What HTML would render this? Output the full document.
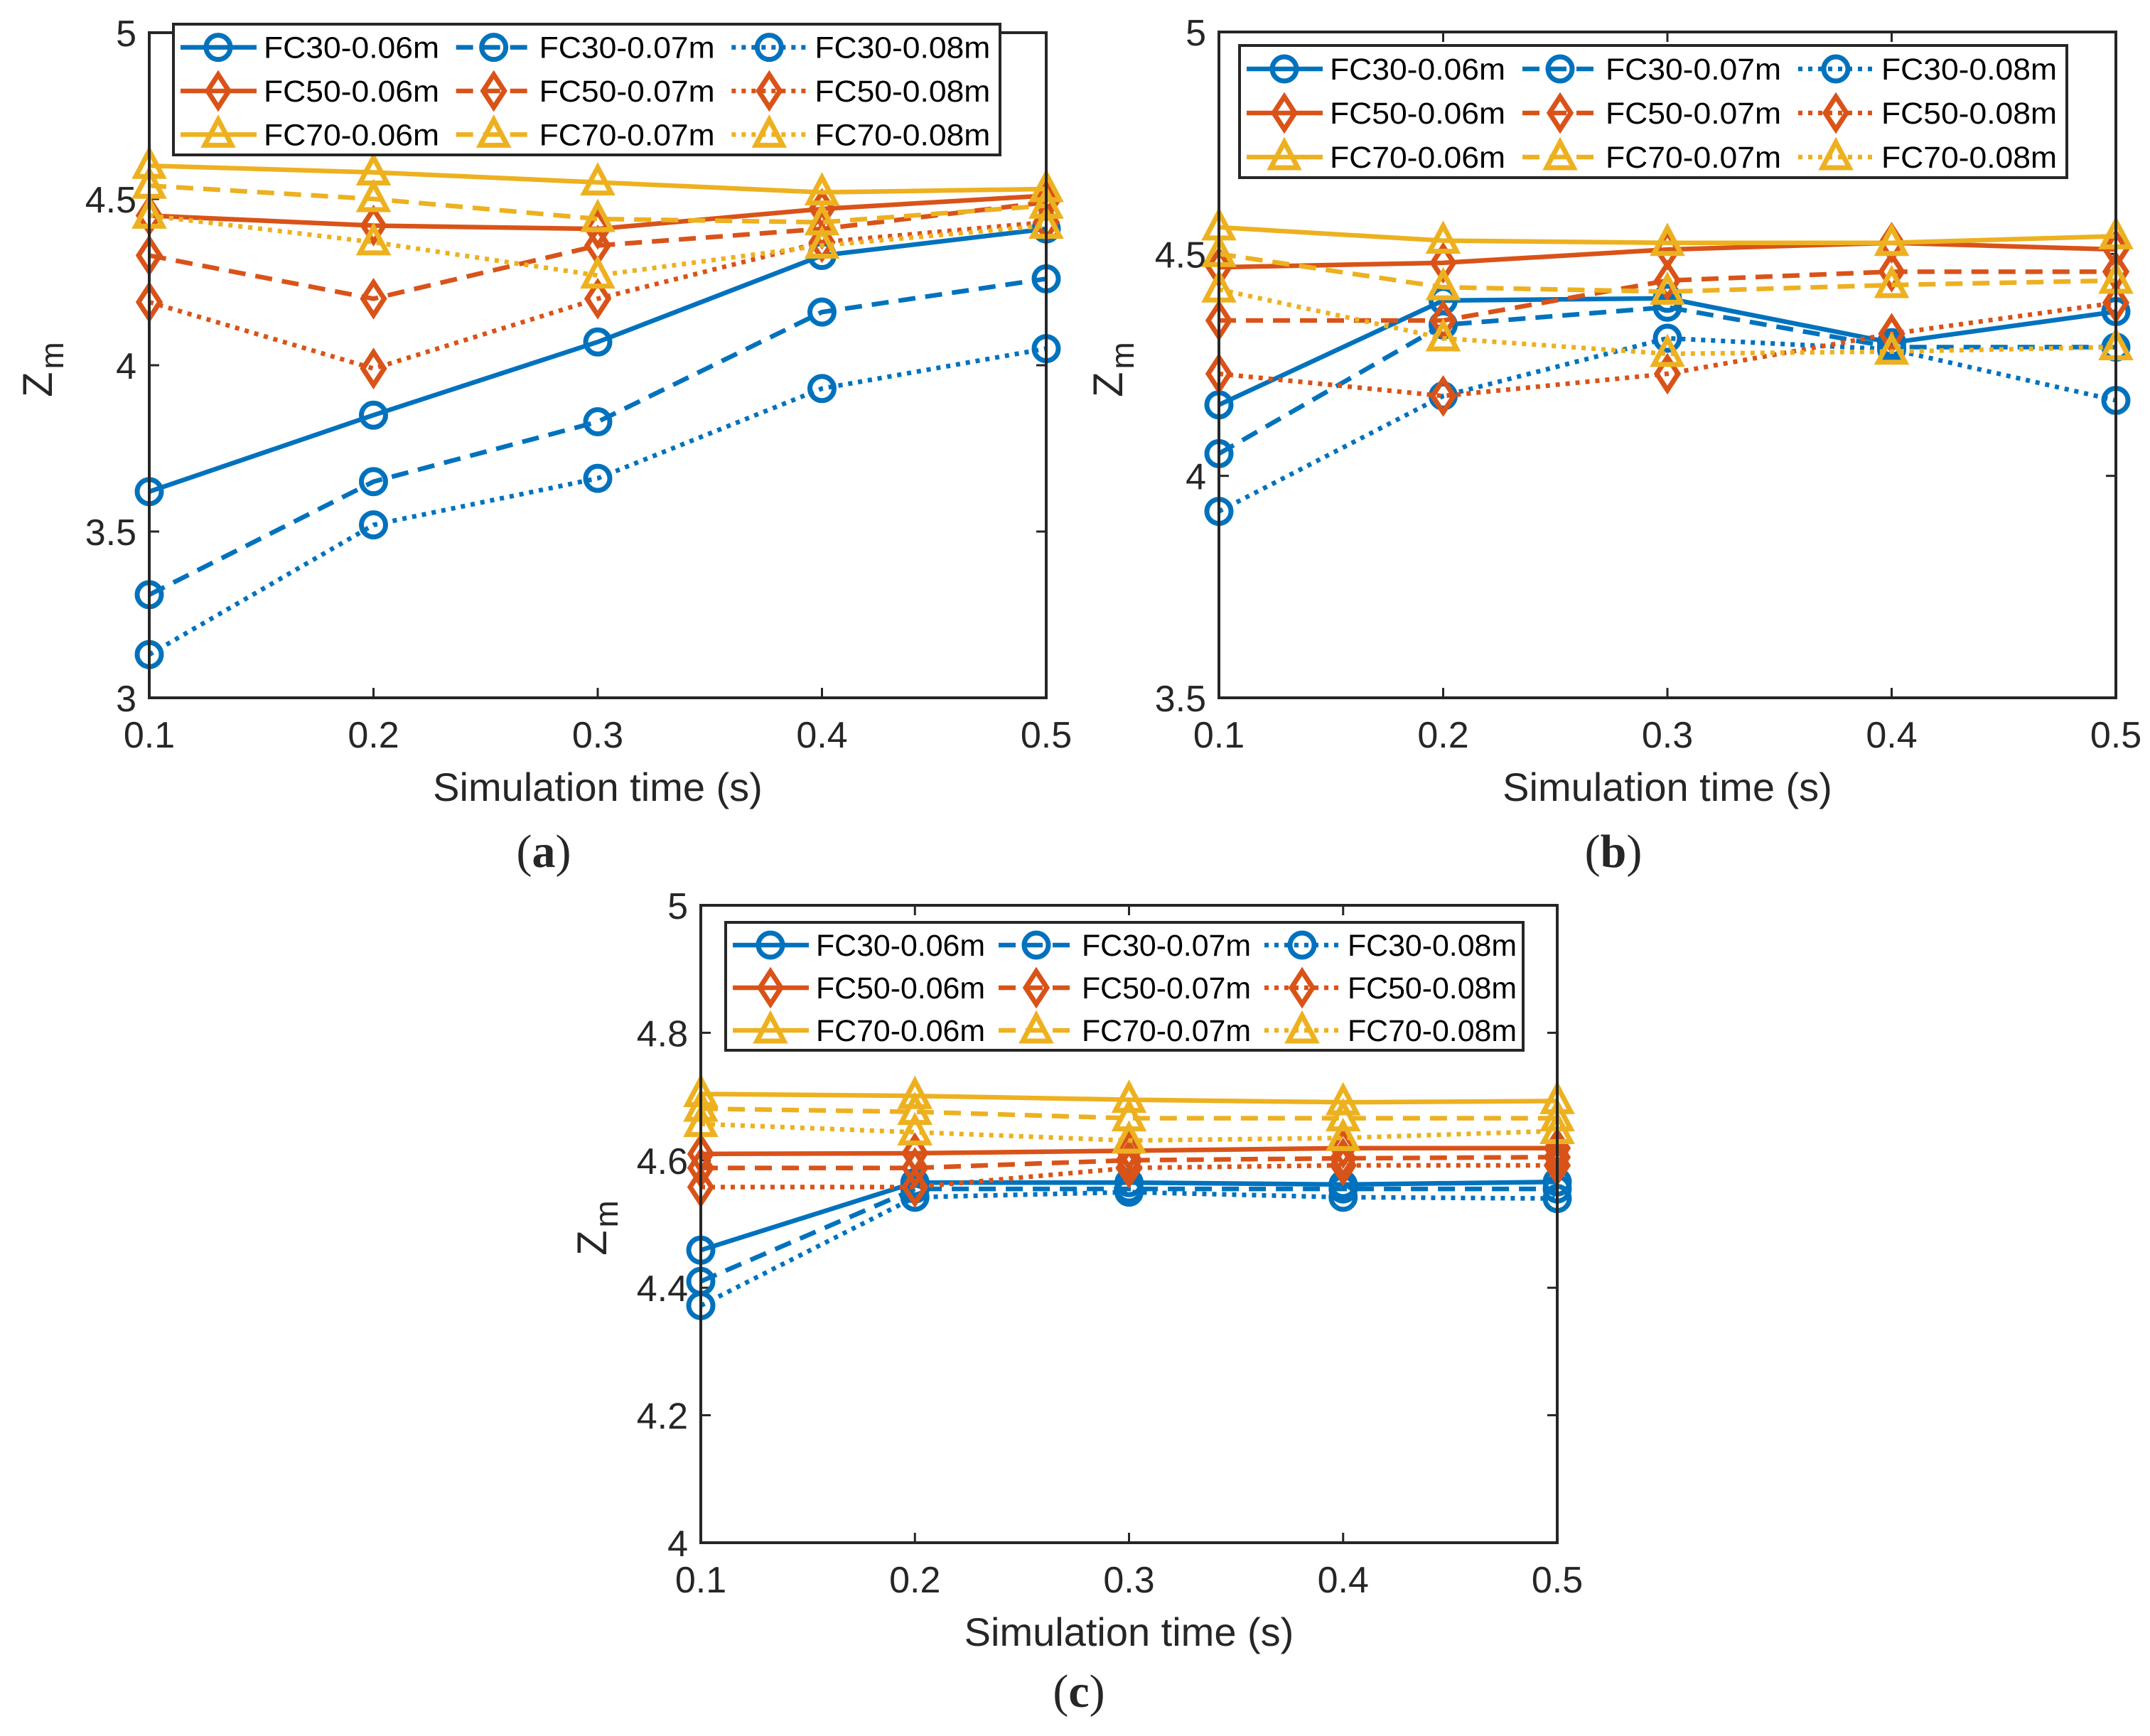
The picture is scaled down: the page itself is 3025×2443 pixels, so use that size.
<!DOCTYPE html>
<html><head><meta charset="utf-8"><style>
html,body{margin:0;padding:0;background:#fff;}
svg{display:block;}
text{font-family:"Liberation Sans",Arial,sans-serif;fill:#262626;}
</style></head><body>
<svg id="fig" width="3025" height="2443" viewBox="0 0 3025 2443" xmlns="http://www.w3.org/2000/svg"></svg>
<script>
// ---- data ----
const xCategories = [0.1, 0.2, 0.3, 0.4, 0.5];
const xTickLabels = ["0.1","0.2","0.3","0.4","0.5"];
const seriesNames = ["FC30-0.06m","FC30-0.07m","FC30-0.08m","FC50-0.06m","FC50-0.07m","FC50-0.08m","FC70-0.06m","FC70-0.07m","FC70-0.08m"];
// panel (a)
const a_FC30_06 = [3.62, 3.85, 4.07, 4.33, 4.41];
const a_FC30_07 = [3.31, 3.65, 3.83, 4.16, 4.26];
const a_FC30_08 = [3.13, 3.52, 3.66, 3.93, 4.05];
const a_FC50_06 = [4.45, 4.42, 4.41, 4.47, 4.51];
const a_FC50_07 = [4.33, 4.20, 4.36, 4.41, 4.49];
const a_FC50_08 = [4.19, 3.99, 4.20, 4.37, 4.43];
const a_FC70_06 = [4.60, 4.58, 4.55, 4.52, 4.53];
const a_FC70_07 = [4.54, 4.50, 4.44, 4.43, 4.48];
const a_FC70_08 = [4.45, 4.37, 4.27, 4.36, 4.42];
const a_yTicks = ["3","3.5","4","4.5","5"];
// panel (b)
const b_FC30_06 = [4.16, 4.395, 4.40, 4.30, 4.37];
const b_FC30_07 = [4.05, 4.34, 4.38, 4.29, 4.29];
const b_FC30_08 = [3.92, 4.18, 4.31, 4.285, 4.17];
const b_FC50_06 = [4.47, 4.48, 4.51, 4.525, 4.51];
const b_FC50_07 = [4.35, 4.35, 4.44, 4.46, 4.46];
const b_FC50_08 = [4.23, 4.18, 4.23, 4.32, 4.39];
const b_FC70_06 = [4.56, 4.53, 4.525, 4.525, 4.54];
const b_FC70_07 = [4.50, 4.425, 4.415, 4.43, 4.44];
const b_FC70_08 = [4.42, 4.31, 4.275, 4.28, 4.29];
const b_yTicks = ["3.5","4","4.5","5"];
// panel (c)
const c_FC30_06 = [4.459, 4.565, 4.565, 4.562, 4.566];
const c_FC30_07 = [4.41, 4.555, 4.555, 4.555, 4.555];
const c_FC30_08 = [4.372, 4.542, 4.55, 4.542, 4.54];
const c_FC50_06 = [4.61, 4.611, 4.615, 4.619, 4.619];
const c_FC50_07 = [4.588, 4.588, 4.60, 4.603, 4.605];
const c_FC50_08 = [4.558, 4.558, 4.588, 4.592, 4.592];
const c_FC70_06 = [4.704, 4.701, 4.695, 4.691, 4.693];
const c_FC70_07 = [4.681, 4.676, 4.666, 4.666, 4.666];
const c_FC70_08 = [4.657, 4.644, 4.631, 4.635, 4.646];
const c_yTicks = ["4","4.2","4.4","4.6","4.8","5"];

const NS = "http://www.w3.org/2000/svg";
const svg = document.getElementById('fig');
const COLORS = ["#0072BD","#D95319","#EDB120"];
const DASH = ["", "24 14", "6 8"];
function mk(tag, attrs, parent){const e=document.createElementNS(NS,tag);for(const k in attrs)e.setAttribute(k,attrs[k]);(parent||svg).appendChild(e);return e;}

function marker(g, kind, cx, cy, color){
  let m;
  if(kind===0){ m=mk('circle',{cx:cx,cy:cy,r:17,fill:'none',stroke:color,'stroke-width':7},g); }
  else if(kind===1){ m=mk('polygon',{points:`${cx},${cy-23} ${cx+15},${cy} ${cx},${cy+23} ${cx-15},${cy}`,fill:'none',stroke:color,'stroke-width':7},g); }
  else { m=mk('polygon',{points:`${cx},${cy-21} ${cx+19},${cy+15} ${cx-19},${cy+15}`,fill:'none',stroke:color,'stroke-width':7},g); }
  
  
}

function panel(cfg){
  const g = mk('g',{});
  
  
  const {L,R,T,B,ymin,ymax} = cfg;
  const xs = v => L + (v - xCategories[0])/(xCategories[xCategories.length-1]-xCategories[0])*(R-L);
  const ys = v => B - (v - ymin)/(ymax-ymin)*(B-T);
  xCategories.forEach((v,i)=>{
    const x=xs(v);
    const t1=mk('line',{x1:x,y1:B,x2:x,y2:B-14,stroke:'#262626','stroke-width':3},g);
     
    const t2=mk('line',{x1:x,y1:T,x2:x,y2:T+14,stroke:'#262626','stroke-width':3},g);
     
    const tl=mk('text',{x:x,y:B+70,'font-size':52,'text-anchor':'middle'},g);
    tl.textContent=xTickLabels[i];
     
  });
  cfg.yTicks.forEach(s=>{
    const y=ys(parseFloat(s));
    const t1=mk('line',{x1:L,y1:y,x2:L+14,y2:y,stroke:'#262626','stroke-width':3},g);
     
    const t2=mk('line',{x1:R,y1:y,x2:R-14,y2:y,stroke:'#262626','stroke-width':3},g);
     
    const tl=mk('text',{x:L-18,y:y+19,'font-size':52,'text-anchor':'end'},g);
    tl.textContent=s;
     
  });
  cfg.series.forEach((vals,si)=>{
    const c=COLORS[Math.floor(si/3)], d=DASH[si%3];
    const pts=vals.map((v,i)=>xs(xCategories[i])+','+ys(v)).join(' ');
    const pl=mk('polyline',{points:pts,fill:'none',stroke:c,'stroke-width':6.5,'stroke-dasharray':d},g);
    
    
    vals.forEach((v,i)=>marker(g,Math.floor(si/3),xs(xCategories[i]),ys(v),c));
  });
  const fr=mk('rect',{x:L,y:T,width:R-L,height:B-T,fill:'none',stroke:'#262626','stroke-width':4},g);
   
  const lg=mk('g',{},g);
   
  const lr=mk('rect',{x:cfg.lx,y:cfg.ly,width:cfg.lw,height:cfg.lh,fill:'#fff',stroke:'#262626','stroke-width':4},lg);
   
  const cw=cfg.lw/3, rh=cfg.lh/3;
  seriesNames.forEach((n,si)=>{
    const col=si%3,row=Math.floor(si/3);
    const x0=cfg.lx+col*cw, yc=cfg.ly+rh*(row+0.5)+2;
    const c=COLORS[row];
    const e=mk('g',{},lg);
     
    mk('line',{x1:x0+10,y1:yc,x2:x0+117,y2:yc,stroke:c,'stroke-width':6.5,'stroke-dasharray':DASH[col]},e);
    marker(e,row,x0+63,yc,c);
    const t=mk('text',{x:x0+127,y:yc+15,'font-size':43,fill:'#000',textLength:cfg.tl,lengthAdjust:'spacingAndGlyphs'},e);
    t.style.fill='#000';
    t.textContent=n;
  });
  const xl=mk('text',{x:(L+R)/2,y:B+145,'font-size':56,'text-anchor':'middle'},g);
  xl.textContent='Simulation time (s)';
   
  const yl=mk('text',{x:0,y:0,'font-size':58,transform:`translate(${cfg.zx},${cfg.zy}) rotate(-90)`,'text-anchor':'middle'},g);
  yl.innerHTML='Z<tspan font-size="46" dy="16" dx="4">m</tspan>';
   
  const cp=mk('text',{x:cfg.capx,y:cfg.capy,'font-size':66,'text-anchor':'middle'},g);
  cp.style.fontFamily='"Liberation Serif",serif';
  cp.innerHTML='(<tspan font-weight="bold">'+cfg.id+'</tspan>)';
   
}

panel({id:'a',L:210,R:1472,T:46,B:982,ymin:3,ymax:5,yTicks:a_yTicks,
  series:[a_FC30_06,a_FC30_07,a_FC30_08,a_FC50_06,a_FC50_07,a_FC50_08,a_FC70_06,a_FC70_07,a_FC70_08],
  lx:244,ly:34,lw:1163,lh:184,tl:247,zx:73,zy:520,capx:765,capy:1220});
panel({id:'b',L:1715,R:2977,T:45,B:982,ymin:3.5,ymax:5,yTicks:b_yTicks,
  series:[b_FC30_06,b_FC30_07,b_FC30_08,b_FC50_06,b_FC50_07,b_FC50_08,b_FC70_06,b_FC70_07,b_FC70_08],
  lx:1744,ly:64,lw:1164,lh:186,tl:247,zx:1579,zy:520,capx:2270,capy:1220});
panel({id:'c',L:986,R:2191,T:1274,B:2171,ymin:4,ymax:5,yTicks:c_yTicks,
  series:[c_FC30_06,c_FC30_07,c_FC30_08,c_FC50_06,c_FC50_07,c_FC50_08,c_FC70_06,c_FC70_07,c_FC70_08],
  lx:1021,ly:1298,lw:1122,lh:180,tl:238,zx:853,zy:1728,capx:1518,capy:2402});
</script>
</body></html>
